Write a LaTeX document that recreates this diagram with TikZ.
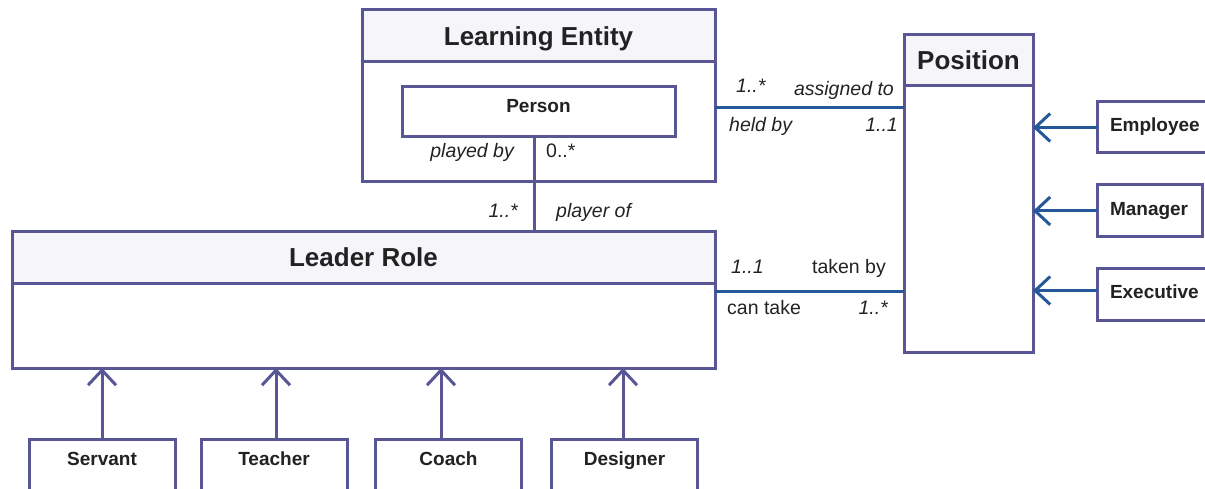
\documentclass[tikz,border=0pt]{standalone}
\usepackage{fontspec}
\setmainfont{Liberation Sans}
\usepackage{xcolor}
\usepackage{tikz}
\usetikzlibrary{arrows.meta,positioning}
\definecolor{umlpurple}{RGB}{88,86,148}
\definecolor{umlblue}{RGB}{36,88,152}
\definecolor{headgray}{RGB}{246,246,250}
\definecolor{inkgray}{RGB}{34,34,34}

\begin{document}
\begin{tikzpicture}[x=1pt, y=-1pt, text=inkgray,
  box/.style={draw=umlpurple, line width=3pt, fill=white, inner sep=0pt, outer sep=0pt},
  headbox/.style={box, fill=headgray, font=\bfseries\fontsize{26}{26}\selectfont, text height=18.6pt, text depth=0pt},
  subbox/.style={box, font=\bfseries\fontsize{19}{19}\selectfont, text height=13.6pt, text depth=12pt},
  sidebox/.style={box, font=\bfseries\fontsize{19}{19}\selectfont, text height=13.6pt, text depth=5pt, inner xsep=13pt, align=left},
  role/.style={font=\itshape\fontsize{19.5}{19.5}\selectfont, inner sep=0pt, text height=14pt, text depth=4pt},
  roleup/.style={role, font=\fontsize{19.5}{19.5}\selectfont},
  link/.style={draw=umlpurple, line width=3pt},
  assoc/.style={draw=umlblue, line width=3pt},
  gen/.style={link, -{Straight Barb[length=15pt,width=28pt]}},
  genb/.style={assoc, -{Straight Barb[length=15pt,width=28pt]}}]
  	\useasboundingbox (0,0) rectangle (1205,489);
  	\node[headbox, minimum width=353pt, minimum height=52pt] (leHead) at (538.5,36) {Learning Entity};
  	\node[box, minimum width=353pt, minimum height=120pt, below=0pt of leHead] (leBody) {};
  	\node[subbox, minimum width=273pt, minimum height=50pt] (person) at (538.5,112) {Person};
  	\node[headbox, minimum width=703pt, minimum height=51pt] (lrHead) at (363.5,257.5) {Leader Role};
  	\node[box, minimum width=703pt, minimum height=85pt, below=0pt of lrHead] (lrBody) {};
  	\node[headbox, minimum width=129pt, minimum height=51pt] (posHead) at (968.5,60.5) {Position};
  	\node[box, minimum width=129pt, minimum height=266pt, below=0pt of posHead] (posBody) {};
  	\node[subbox, minimum width=146pt, minimum height=52pt] (servant) at (102,465) {Servant};
  	\node[subbox, minimum width=146pt, minimum height=52pt] (teacher) at (274,465) {Teacher};
  	\node[subbox, minimum width=146pt, minimum height=52pt] (coach) at (448.5,465) {Coach};
  	\node[subbox, minimum width=146pt, minimum height=52pt] (designer) at (624.5,465) {Designer};
  	\node[sidebox, text width=92pt, minimum height=51pt] (employee) at (1156,127.5) {Employee};
  	\node[sidebox, text width=79pt, minimum height=52pt] (manager) at (1149.5,211) {Manager};
  	\node[sidebox, text width=92pt, minimum height=52pt] (executive) at (1156,294) {Executive};
  	\draw[link] ([xshift=-4.5pt]person.south) -- ([xshift=-4.5pt]person.south |- lrHead.north);
  	\draw[assoc] (leBody.east |- 0,108) -- (posBody.west |- 0,108);
  	\draw[assoc] (lrBody.east |- 0,291) -- (posBody.west |- 0,291);
  	\draw[gen] (servant.north) -- (servant.north |- lrBody.south);
  	\draw[gen] ([xshift=2pt]teacher.north) -- ([xshift=2pt]teacher.north |- lrBody.south);
  	\draw[gen] ([xshift=-7.5pt]coach.north) -- ([xshift=-7.5pt]coach.north |- lrBody.south);
  	\draw[gen] ([xshift=-1.5pt]designer.north) -- ([xshift=-1.5pt]designer.north |- lrBody.south);
  	\draw[genb] (employee.west) -- (employee.west -| posBody.east);
  	\draw[genb] (manager.west) -- (manager.west -| posBody.east);
  	\draw[genb] ([yshift=3.5pt]executive.west) -- ([yshift=3.5pt]executive.west -| posBody.east);
  	\node[role, anchor=east] (playedBy) at (514,153) {played by};
  	\node[roleup, anchor=west] (personMult) at (546,153) {0..*};
  	\node[role, anchor=east] (roleMult) at (518,213) {1..*};
  	\node[role, anchor=west] (playerOf) at (556,213) {player of};
  	\node[role, anchor=west] (entityMult) at (736,88) {1..*};
  	\node[role, anchor=east] (assignedTo) at (894,91) {assigned to};
  	\node[role, anchor=west] (heldBy) at (729,127) {held by};
  	\node[role, anchor=east] (posMult) at (898,127) {1..1};
  	\node[role, anchor=west] (leaderMult) at (731,268) {1..1};
  	\node[roleup, anchor=east] (takenBy) at (886,268) {taken by};
  	\node[roleup, anchor=west] (canTake) at (727,309) {can take};
  	\node[role, anchor=east] (takeMult) at (888,309) {1..*};
  	\end{tikzpicture}
\end{document}
